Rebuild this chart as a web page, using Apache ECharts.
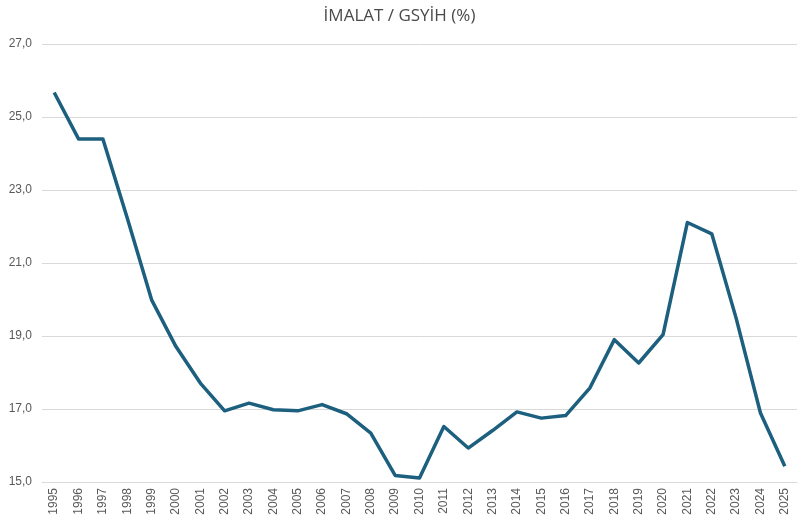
<!DOCTYPE html>
<html>
<head>
<meta charset="utf-8">
<script src="https://cdn.jsdelivr.net/npm/echarts@6/dist/echarts.min.js"></script>
<style>html,body{margin:0;padding:0;background:#fff}#c{width:799px;height:522px}</style>
</head>
<body>
<div id="c"></div>
<script>
const years = ['1995','1996','1997','1998','1999','2000','2001','2002','2003','2004','2005','2006','2007','2008','2009','2010','2011','2012','2013','2014','2015','2016','2017','2018','2019','2020','2021','2022','2023','2024','2025'];
const values = [25.67,24.40,24.40,22.23,19.99,18.71,17.71,16.95,17.16,16.98,16.95,17.12,16.87,16.34,15.18,15.11,16.52,15.93,16.41,16.92,16.75,16.82,17.58,18.90,18.26,19.04,22.11,21.80,19.49,16.89,15.43];
const title = 'İMALAT / GSYİH (%)';
const chart = echarts.init(document.getElementById('c'), null, {renderer:'canvas'});
chart.setOption({
  animation:false,
  title:{text:title,left:'center',top:3,textStyle:{fontFamily:'Open Sans',fontSize:17,fontWeight:'normal',color:'#4a4a4a'}},
  grid:{left:42,right:2,top:44,bottom:40,containLabel:false},
  xAxis:{type:'category',data:years,boundaryGap:true,
    axisLine:{show:true,lineStyle:{color:'#d9d9d9',width:1}},
    axisTick:{show:false},
    axisLabel:{rotate:90,color:'#595959',fontFamily:'Liberation Sans',fontSize:12,margin:6,interval:0}},
  yAxis:{type:'value',min:15,max:27,interval:2,
    axisLine:{show:false},axisTick:{show:false},
    splitLine:{lineStyle:{color:'#d9d9d9',width:1}},
    axisLabel:{color:'#595959',fontFamily:'Liberation Sans',fontSize:12,margin:10,formatter:v=>v.toFixed(1).replace('.',',')}},
  series:[{type:'line',data:values,symbol:'none',lineStyle:{color:'#1c5f7e',width:3.5,join:'round'}}]
});
</script>
</body>
</html>
